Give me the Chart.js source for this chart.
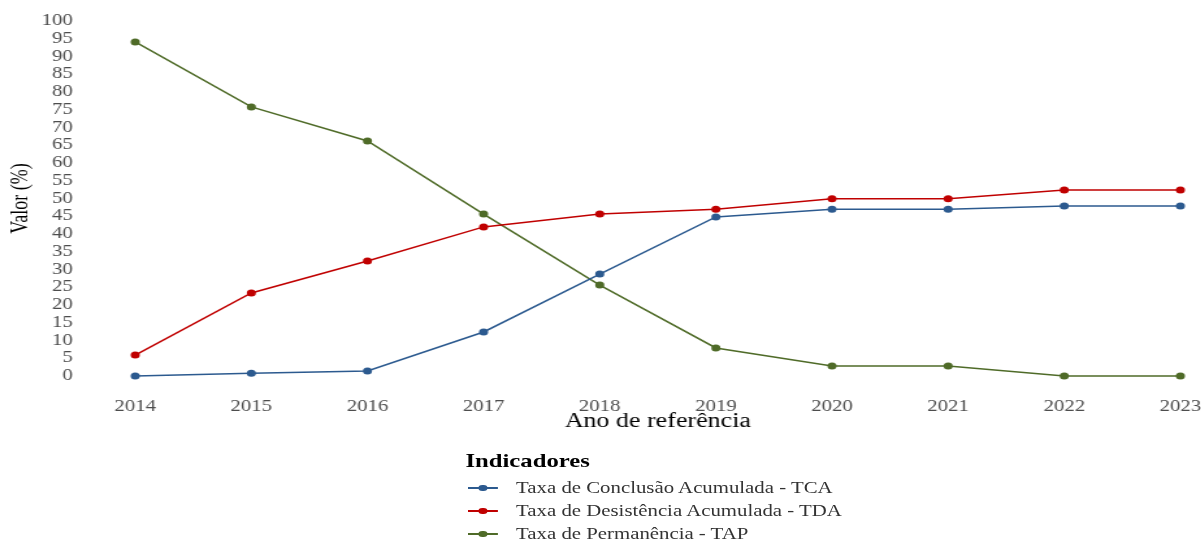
<!DOCTYPE html>
<html>
<head>
<meta charset="utf-8">
<script src="https://cdn.jsdelivr.net/npm/chart.js@4"></script>
<style>
  html, body { margin: 0; padding: 0; background: #fff; overflow: hidden; }
  /* the reference is stretched horizontally, so draw narrow and scale */
  #wrap { position: absolute; left: 0; top: 0; width: 924px; height: 540px;
          transform: scaleX(1.3); transform-origin: 0 0; }
  #chart { position: absolute; left: 0; top: 0; }
  #legend { position: absolute; left: 358px; top: 449px; font-family: "Liberation Serif", serif; }
  #legend .ttl { font-weight: bold; font-size: 19px; height: 27px; line-height: 24px; color: #000; }
  #legend .item { height: 23px; line-height: 23px; font-size: 16px; color: #333; position: relative; padding-left: 39px; }
  #legend .sym { position: absolute; left: 2px; top: 11px; width: 23px; height: 1.5px; }
  #legend .dot { position: absolute; left: 8px; top: -2.5px; width: 6.5px; height: 6.5px; border-radius: 50%; }
</style>
</head>
<body>
<div id="wrap">
  <canvas id="chart" width="924" height="440"></canvas>
  <div id="legend"></div>
</div>
<script>
// Chart data
const years = ['2014', '2015', '2016', '2017', '2018', '2019', '2020', '2021', '2022', '2023'];
const tca = [0, 0.8, 1.4, 12.4, 28.7, 44.8, 47.0, 47.0, 47.9, 47.9];
const tda = [5.9, 23.4, 32.4, 42.0, 45.6, 47.0, 49.9, 49.9, 52.4, 52.4];
const tap = [94.1, 75.8, 66.2, 45.6, 25.6, 7.9, 2.8, 2.8, 0, 0];
const seriesNames = [
  'Taxa de Conclusão Acumulada - TCA',
  'Taxa de Desistência Acumulada - TDA',
  'Taxa de Permanência - TAP'
];
const colors = ['#2c5a8f', '#c00000', '#4f6b28'];

const font = 'Liberation Serif';

const datasets = [tca, tda, tap].map((vals, i) => ({
  label: seriesNames[i],
  data: vals,
  borderColor: colors[i],
  backgroundColor: colors[i],
  borderWidth: 1.5,
  pointRadius: 3.5,
  pointHoverRadius: 3.5,
  pointBorderWidth: 0,
  tension: 0,
  clip: false,
}));

// invisible tick marks push the labels away from the plot
// (ticks.padding would also shrink the plot area)
new Chart(document.getElementById('chart'), {
  type: 'line',
  data: { labels: years, datasets: datasets },
  options: {
    responsive: false,
    animation: false,
    layout: { padding: { top: 21, right: 16, bottom: 6, left: 0 } },
    plugins: { legend: { display: false }, tooltip: { enabled: false } },
    scales: {
      x: {
        offset: false,
        grid: { display: true, drawOnChartArea: false, drawTicks: true, tickLength: 21, tickColor: 'rgba(0,0,0,0)' },
        border: { display: false },
        ticks: { color: '#4d4d4d', font: { family: font, size: 16 }, padding: 0, maxRotation: 0, autoSkip: false },
        title: { display: true, text: 'Ano de referência', color: '#000', font: { family: font, size: 20 }, padding: 0 },
        afterFit: (s) => { s.height = 58; }
      },
      y: {
        min: 0,
        max: 100,
        grid: { display: true, drawOnChartArea: false, drawTicks: true, tickLength: 46, tickColor: 'rgba(0,0,0,0)' },
        border: { display: false },
        ticks: { stepSize: 5, autoSkip: false, color: '#4d4d4d', font: { family: font, size: 16 }, padding: 2 },
        title: { display: true, text: 'Valor (%)', color: '#000', font: { family: font, size: 18 }, padding: { top: 5, bottom: 0 } },
        afterFit: (s) => { s.width = 104; }
      }
    }
  }
});

// Legend below the chart
let html = '<div class="ttl">Indicadores</div>';
seriesNames.forEach((name, i) => {
  html += '<div class="item"><span class="sym" style="background:' + colors[i] + '">' +
    '<span class="dot" style="background:' + colors[i] + '"></span></span>' + name + '</div>';
});
document.getElementById('legend').innerHTML = html;
</script>
</body>
</html>
